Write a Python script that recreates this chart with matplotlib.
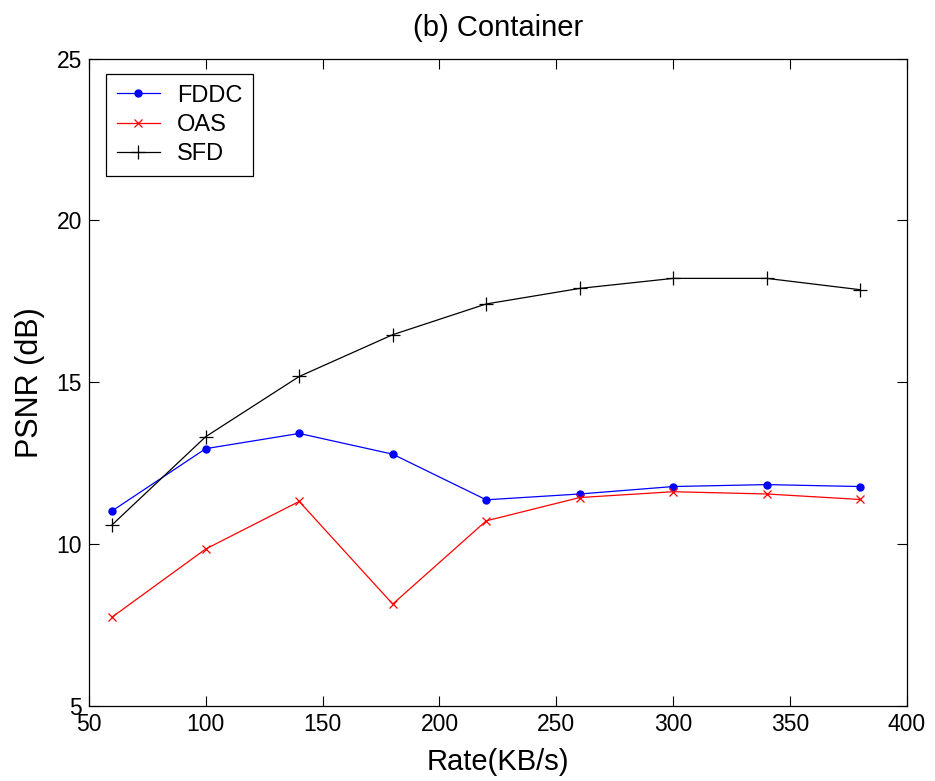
import matplotlib
matplotlib.use("Agg")
import matplotlib.pyplot as plt

plt.rcParams['font.family'] = ['Liberation Sans', 'DejaVu Sans']

# rate points (KB/s)
rate = [60, 100, 140, 180, 220, 260, 300, 340, 380]

# PSNR (dB) for each method
fddc = [11.03, 12.95, 13.42, 12.78, 11.37, 11.55, 11.78, 11.84, 11.78]
oas = [7.75, 9.85, 11.32, 8.15, 10.72, 11.44, 11.62, 11.55, 11.38]
sfd = [10.6, 13.32, 15.18, 16.47, 17.42, 17.9, 18.21, 18.21, 17.86]

xticks = [50, 100, 150, 200, 250, 300, 350, 400]
yticks = [5, 10, 15, 20, 25]

fig = plt.figure(figsize=(9.35, 7.81), dpi=100)
ax = fig.add_axes([0.095, 0.096, 0.875, 0.829])

ax.plot(rate, fddc, color='#0000ff', linewidth=0.9, marker='o', markersize=5, label='FDDC')
ax.plot(rate, oas, color='#ff0000', linewidth=0.9, marker='x', markersize=6,
        markeredgewidth=0.9, label='OAS')
ax.plot(rate, sfd, color='black', linewidth=0.9, marker='+', markersize=9.5,
        markeredgewidth=0.9, label='SFD')

ax.set_xlim(50, 400)
ax.set_ylim(5, 25)
ax.set_xticks(xticks)
ax.set_yticks(yticks)
ax.tick_params(direction='in', length=7, width=0.8, top=True, right=True, labelsize=16.5)
ax.tick_params(axis='x', pad=5)
ax.tick_params(axis='y', pad=5)
for s in ax.spines.values():
    s.set_linewidth(0.9)

ax.set_xlabel('Rate(KB/s)', fontsize=21, labelpad=9)
ax.set_ylabel('PSNR (dB)', fontsize=22, labelpad=8)
ax.set_title('(b) Container', fontsize=21, pad=16)

leg = ax.legend(loc='upper left', fontsize=17, fancybox=False, framealpha=1,
                edgecolor='black', borderpad=0.45, handlelength=1.85,
                handletextpad=0.7, labelspacing=0.31, borderaxespad=0,
                bbox_to_anchor=(0.021, 0.976))
leg.get_frame().set_linewidth(0.9)

fig.savefig('out.png', dpi=100)
